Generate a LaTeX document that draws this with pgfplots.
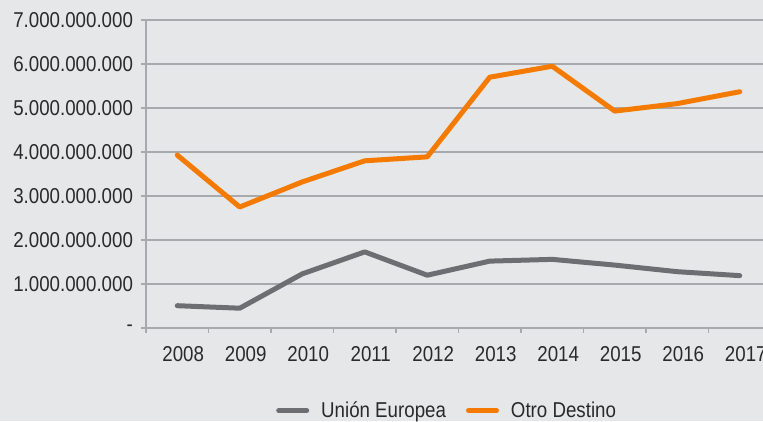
\documentclass[border=0pt]{standalone}
\usepackage{fontspec}
\setmainfont{Liberation Sans}[FakeStretch=0.87]
\usepackage{pgfplots}
\pgfplotsset{compat=1.18}
\definecolor{bg}{HTML}{E6E7E8}
\definecolor{gridc}{HTML}{A7A9AC}
\definecolor{ue}{HTML}{6D6E71}
\definecolor{od}{HTML}{F47B00}
\definecolor{txt}{HTML}{2B2A2B}
\begin{document}
\begin{tikzpicture}[font=\fontsize{21.5}{25}\selectfont]
\fill[bg] (0,0) rectangle (763pt,421pt);
\begin{axis}[
  at={(146pt,93pt)}, anchor=south west,
  scale only axis, width=617pt, height=308pt,
  xmin=-0.5, xmax=9.372, ymin=0, ymax=7000000000,
  scaled y ticks=false,
  axis x line*=bottom, axis y line*=left,
  axis line style={-, gridc, line width=1.2pt},
  ymajorgrids, grid style={gridc, line width=1.2pt},
  tick align=outside, major tick length=4.5pt, minor tick length=4.5pt,
  ytick={0,1000000000,2000000000,3000000000,4000000000,5000000000,6000000000,7000000000},
  yticklabels={-,1.000.000.000,2.000.000.000,3.000.000.000,4.000.000.000,5.000.000.000,6.000.000.000,7.000.000.000},
  ytick style={gridc, line width=1.2pt},
  xtick={0,1,2,3,4,5,6,7,8,9},
  xticklabels={2008,2009,2010,2011,2012,2013,2014,2015,2016,2017},
  major x tick style={draw=none},
  minor xtick={-0.5,0.5,1.5,2.5,3.5,4.5,5.5,6.5,7.5,8.5},
  minor x tick style={gridc, line width=1.2pt},
  xticklabel style={text=txt, xshift=6pt, yshift=-10pt},
  yticklabel style={text=txt, xshift=-5pt},
  legend style={at={(0.488,-0.268)}, anchor=center, draw=none, fill=none,
    legend columns=2, text=txt,
    /tikz/every odd column/.append style={column sep=10pt},
    /tikz/every even column/.append style={column sep=18pt}},
  legend image code/.code={\draw[#1, line width=5pt, line cap=round] (0pt,0pt) -- (28pt,0pt);},
  clip=false,
]
\addplot[ue, line width=5pt, line join=round, line cap=round] coordinates {
  (0,507000000) (1,450000000) (2,1230000000) (3,1730000000) (4,1200000000)
  (5,1520000000) (6,1560000000) (7,1430000000) (8,1280000000) (9,1190000000)};
\addlegendentry{Unión Europea}
\addplot[od, line width=5pt, line join=round, line cap=round] coordinates {
  (0,3930000000) (1,2750000000) (2,3320000000) (3,3800000000) (4,3890000000)
  (5,5700000000) (6,5950000000) (7,4930000000) (8,5100000000) (9,5370000000)};
\addlegendentry{Otro Destino}
\end{axis}
\pgfresetboundingbox
\path[use as bounding box] (0,0) rectangle (763pt,421pt);
\end{tikzpicture}
\end{document}
